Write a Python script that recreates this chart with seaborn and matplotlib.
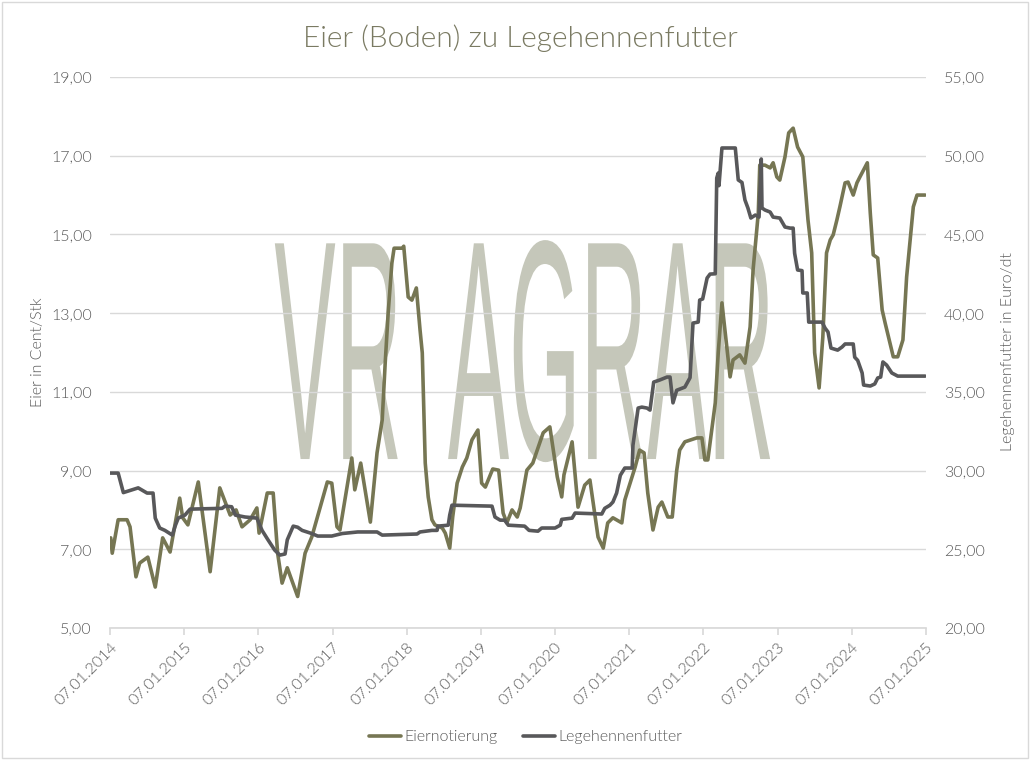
import numpy as np
import pandas as pd
import matplotlib.pyplot as plt
import seaborn as sns
from matplotlib.ticker import FuncFormatter
from matplotlib.textpath import TextPath
from matplotlib.patches import PathPatch, Rectangle
from matplotlib.font_manager import FontProperties
from matplotlib.transforms import Affine2D
import matplotlib.dates as mdates

# time given as decimal years, 2014.0 = 07.01.2014
base_date = "2014-01-07"

egg_t = [2014.01, 2014.03, 2014.11, 2014.23, 2014.27, 2014.35, 2014.40, 2014.51, 2014.61, 2014.71,
         2014.81, 2014.94, 2014.98, 2015.05, 2015.19, 2015.35, 2015.48, 2015.62, 2015.70, 2015.78,
         2015.89, 2015.98, 2016.01, 2016.12, 2016.20, 2016.26, 2016.32, 2016.39, 2016.53, 2016.63,
         2016.72, 2016.93, 2016.99, 2017.06, 2017.10, 2017.26, 2017.30, 2017.38, 2017.51, 2017.60,
         2017.67, 2017.71, 2017.75, 2017.80, 2017.83, 2017.94, 2017.96, 2018.02, 2018.07, 2018.13,
         2018.18, 2018.21, 2018.25, 2018.29, 2018.34, 2018.38, 2018.48, 2018.52, 2018.58, 2018.62,
         2018.68, 2018.75, 2018.81, 2018.88, 2018.96, 2019.01, 2019.06, 2019.16, 2019.24, 2019.30,
         2019.35, 2019.42, 2019.49, 2019.53, 2019.62, 2019.70, 2019.84, 2019.93, 2020.03, 2020.09,
         2020.12, 2020.23, 2020.31, 2020.40, 2020.47, 2020.58, 2020.65, 2020.71, 2020.78, 2020.90,
         2020.94, 2021.08, 2021.14, 2021.20, 2021.25, 2021.32, 2021.39, 2021.44, 2021.52, 2021.58,
         2021.64, 2021.68, 2021.75, 2021.91, 2021.98, 2022.02, 2022.06, 2022.16, 2022.20, 2022.25,
         2022.36, 2022.40, 2022.49, 2022.56, 2022.63, 2022.67, 2022.74, 2022.76, 2022.83, 2022.90,
         2022.94, 2022.99, 2023.03, 2023.10, 2023.15, 2023.21, 2023.27, 2023.34, 2023.41, 2023.46,
         2023.50, 2023.56, 2023.61, 2023.66, 2023.71, 2023.75, 2023.80, 2023.84, 2023.91, 2023.95,
         2024.02, 2024.07, 2024.11, 2024.21, 2024.25, 2024.29, 2024.35, 2024.41, 2024.45, 2024.56,
         2024.62, 2024.69, 2024.74, 2024.83, 2024.88, 2024.99]
egg_val = [7.29, 6.90, 7.75, 7.75, 7.57, 6.30, 6.65, 6.80, 6.04, 7.29,
           6.93, 8.30, 7.80, 7.62, 8.71, 6.43, 8.56, 7.87, 8.00, 7.57,
           7.75, 8.05, 7.41, 8.43, 8.43, 6.90, 6.14, 6.53, 5.80, 6.90,
           7.31, 8.71, 8.68, 7.57, 7.49, 9.32, 8.51, 9.19, 7.69, 9.45,
           10.29, 11.73, 13.00, 14.27, 14.65, 14.65, 14.70, 13.41, 13.33, 13.64,
           12.57, 11.99, 9.19, 8.33, 7.75, 7.62, 7.54, 7.41, 7.03, 7.82,
           8.68, 9.09, 9.32, 9.78, 10.03, 8.68, 8.58, 9.04, 9.01, 7.92,
           7.67, 8.00, 7.82, 8.05, 9.01, 9.19, 9.96, 10.11, 8.84, 8.33,
           8.89, 9.73, 8.07, 8.63, 8.76, 7.31, 7.03, 7.67, 7.80, 7.67,
           8.25, 9.09, 9.52, 9.45, 8.43, 7.49, 8.07, 8.20, 7.82, 7.82,
           9.00, 9.52, 9.73, 9.83, 9.83, 9.27, 9.27, 10.72, 11.99, 13.26,
           11.38, 11.81, 11.94, 11.73, 12.65, 14.10, 15.54, 16.76, 16.76, 16.69,
           16.82, 16.46, 16.38, 16.97, 17.58, 17.70, 17.22, 16.97, 15.37, 14.53,
           11.99, 11.10, 12.39, 14.53, 14.86, 14.99, 15.37, 15.70, 16.31, 16.33,
           16.00, 16.31, 16.46, 16.82, 15.54, 14.48, 14.40, 13.08, 12.75, 11.89,
           11.89, 12.32, 13.92, 15.70, 16.00, 16.00]

feed_t = [2014.00, 2014.11, 2014.18, 2014.38, 2014.50, 2014.58, 2014.61, 2014.67, 2014.74, 2014.84,
          2014.88, 2014.92, 2015.01, 2015.08, 2015.51, 2015.55, 2015.64, 2015.69, 2015.82, 2015.98,
          2016.05, 2016.13, 2016.22, 2016.29, 2016.36, 2016.39, 2016.47, 2016.53, 2016.59, 2016.72,
          2016.80, 2016.99, 2017.13, 2017.34, 2017.60, 2017.67, 2018.14, 2018.18, 2018.34, 2018.41,
          2018.42, 2018.56, 2018.58, 2018.61, 2019.15, 2019.19, 2019.26, 2019.32, 2019.37, 2019.59,
          2019.65, 2019.77, 2019.82, 2020.00, 2020.07, 2020.09, 2020.23, 2020.27, 2020.63, 2020.67,
          2020.74, 2020.78, 2020.83, 2020.88, 2020.94, 2021.04, 2021.05, 2021.12, 2021.17, 2021.24,
          2021.28, 2021.33, 2021.41, 2021.51, 2021.55, 2021.59, 2021.64, 2021.75, 2021.82, 2021.86,
          2021.93, 2021.95, 2021.99, 2022.05, 2022.09, 2022.16, 2022.18, 2022.20, 2022.21, 2022.25,
          2022.43, 2022.47, 2022.52, 2022.56, 2022.60, 2022.64, 2022.70, 2022.75, 2022.78, 2022.79,
          2022.83, 2022.90, 2022.94, 2023.03, 2023.10, 2023.17, 2023.21, 2023.23, 2023.27, 2023.33,
          2023.34, 2023.40, 2023.42, 2023.60, 2023.64, 2023.68, 2023.72, 2023.81, 2023.87, 2023.91,
          2024.02, 2024.04, 2024.08, 2024.14, 2024.16, 2024.25, 2024.31, 2024.35, 2024.39, 2024.42,
          2024.47, 2024.54, 2024.62, 2024.99]
feed_val = [29.84, 29.84, 28.60, 28.90, 28.57, 28.57, 26.98, 26.35, 26.20, 25.90,
            26.50, 26.98, 27.17, 27.55, 27.60, 27.74, 27.70, 27.17, 27.05, 26.98,
            26.20, 25.60, 24.95, 24.63, 24.70, 25.60, 26.47, 26.40, 26.20, 26.00,
            25.84, 25.84, 26.00, 26.10, 26.10, 25.90, 25.97, 26.10, 26.20, 26.20,
            26.47, 26.53, 27.17, 27.80, 27.74, 27.05, 26.85, 26.85, 26.53, 26.47,
            26.20, 26.15, 26.35, 26.35, 26.53, 26.90, 26.98, 27.30, 27.24, 27.60,
            27.80, 28.00, 28.57, 29.70, 30.16, 30.16, 31.60, 33.97, 34.03, 33.97,
            33.84, 35.62, 35.75, 35.94, 35.94, 34.30, 35.10, 35.30, 35.90, 39.37,
            39.43, 40.83, 40.90, 42.23, 42.48, 42.50, 48.58, 48.90, 48.10, 50.49,
            50.49, 48.46, 48.30, 47.19, 46.68, 46.04, 46.23, 46.10, 49.79, 46.68,
            46.55, 46.42, 46.10, 46.04, 45.47, 45.40, 45.40, 43.80, 42.74, 42.70,
            41.28, 41.28, 39.43, 39.43, 39.05, 38.80, 37.78, 37.65, 37.85, 38.04,
            38.04, 37.20, 37.00, 36.20, 35.43, 35.37, 35.50, 35.88, 35.94, 36.90,
            36.70, 36.20, 36.00, 36.00]

egg_ticks = [5, 7, 9, 11, 13, 15, 17, 19]
feed_ticks = [20, 25, 30, 35, 40, 45, 50, 55]
tick_years = list(range(2014, 2026))


def to_date(t):
    return pd.Timestamp(base_date) + pd.to_timedelta((np.array(t) - 2014) * 365.25, unit="D")


eggs = pd.DataFrame({"datum": to_date(egg_t), "wert": egg_val})
feed = pd.DataFrame({"datum": to_date(feed_t), "wert": feed_val})

EGG = "#767653"
FEED = "#58585a"
GRID = "#d9d9d9"
TXT = "#595959"
FS = 11.5

sns.set_theme(style="white")
plt.rcParams["font.family"] = ["Lato", "DejaVu Sans"]
plt.rcParams["font.weight"] = 300

fig = plt.figure(figsize=(10.3, 7.6), dpi=100)
ax = fig.add_axes([0.1068, 0.1737, 0.7922, 0.725])

# watermark behind the grid
fp = FontProperties(family="Liberation Sans")
tp = TextPath((0, 0), "VR  AGRAR", size=1, prop=fp)
ext = tp.get_extents()
x0, x1, y0, y1 = 0.202, 0.809, 0.301, 0.704
tr = (Affine2D().translate(-ext.x0, -ext.y0)
      .scale((x1 - x0) / ext.width, (y1 - y0) / ext.height)
      .translate(x0, y0))
ax.add_patch(PathPatch(tp, transform=tr + ax.transAxes, facecolor="#c5c7ba", lw=0, zorder=0.2))

sns.lineplot(data=eggs, x="datum", y="wert", ax=ax, color=EGG, linewidth=2.6, legend=False)
ax2 = ax.twinx()
sns.lineplot(data=feed, x="datum", y="wert", ax=ax2, color=FEED, linewidth=2.6, legend=False)

ax.set_ylim(5, 19)
ax.set_yticks(egg_ticks)
ax2.set_ylim(20, 55)
ax2.set_yticks(feed_ticks)
fmt = FuncFormatter(lambda v, p: f"{v:.2f}".replace(".", ","))
ax.yaxis.set_major_formatter(fmt)
ax2.yaxis.set_major_formatter(fmt)

ax.set_xlim(pd.Timestamp("2014-01-07"), pd.Timestamp("2025-01-07"))
ax.set_xticks([pd.Timestamp(f"{y}-01-07") for y in tick_years])
ax.xaxis.set_major_formatter(mdates.DateFormatter("%d.%m.%Y"))

ax.set_axisbelow(True)
ax.yaxis.grid(True, color=GRID, lw=1)
ax.xaxis.grid(False)
for s in ["left", "right", "top"]:
    ax.spines[s].set_visible(False)
ax.spines["bottom"].set_color(GRID)
for s in ax2.spines.values():
    s.set_visible(False)

ax.set_xlabel("")
ax.set_ylabel("")
ax2.set_ylabel("")
ax.tick_params(axis="y", length=0, labelsize=FS, labelcolor=TXT, pad=13)
ax2.tick_params(axis="y", length=0, labelsize=FS, labelcolor=TXT, pad=13)
ax.tick_params(axis="x", bottom=True, length=5, color=GRID, labelsize=FS, labelcolor=TXT, pad=4)
for lab in ax.get_xticklabels():
    lab.set_rotation(45)
    lab.set_ha("right")
    lab.set_rotation_mode("anchor")

fig.text(0.505, 1 - 38 / 760, "Eier (Boden) zu Legehennenfutter", ha="center", va="center",
         fontsize=21.5, color="#7a7a62")
fig.text(0.037, 0.537, "Eier in Cent/Stk", rotation=90, ha="center", va="center",
         fontsize=FS, color=TXT)
fig.text(0.979, 0.537, "Legehennenfutter in Euro/dt", rotation=90, ha="center", va="center",
         fontsize=FS, color=TXT)

handles = [plt.Line2D([], [], color=EGG, lw=2.6), plt.Line2D([], [], color=FEED, lw=2.6)]
fig.legend(handles, ["Eiernotierung", "Legehennenfutter"], loc="center", bbox_to_anchor=(0.51, 0.03),
           ncol=2, frameon=False, fontsize=FS, handlelength=2.0, handletextpad=0.2,
           columnspacing=1.6, labelcolor=TXT)

fig.patches.append(Rectangle((0.002, 0.002), 0.996, 0.996, transform=fig.transFigure,
                             fill=False, edgecolor=GRID, lw=1))

fig.savefig("out.png", dpi=100)
